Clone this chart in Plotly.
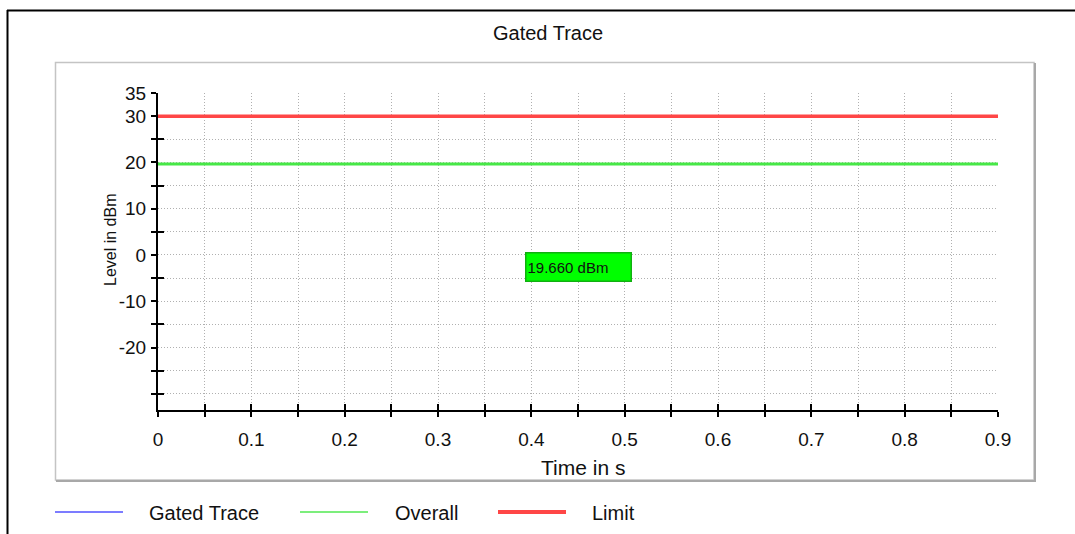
import plotly.graph_objects as go

# ---- data ----
time_s = [0.0, 0.9]
overall_dbm = [19.66, 19.66]
limit_dbm = [30.0, 30.0]
gated_time_s = [None]
gated_dbm = [None]
marker_value_dbm = 19.66

x_tick_vals = [0.0, 0.05, 0.1, 0.15, 0.2, 0.25, 0.3, 0.35, 0.4, 0.45,
               0.5, 0.55, 0.6, 0.65, 0.7, 0.75, 0.8, 0.85, 0.9]
x_tick_text = ["0", "", "0.1", "", "0.2", "", "0.3", "", "0.4", "",
               "0.5", "", "0.6", "", "0.7", "", "0.8", "", "0.9"]
y_tick_vals = [35, 30, 25, 20, 15, 10, 5, 0, -5, -10, -15, -20, -25, -30]
y_tick_text = ["35", "30", "", "20", "", "10", "", "0", "", "-10", "", "-20", "", ""]
y_inner_ticks = [35, 25, 15, 5, -5, -15, -25, -30]

x_range = [0, 0.9]
y_range = [-33.5, 35]

# ---- layout geometry (pixels) ----
W, H = 1075, 534
L, R, T, B = 158, 998, 93, 410


def px(x):
    return (x - L) / (R - L)


def py(y):
    return (B - y) / (B - T)


FONT = "Liberation Sans, Arial, Helvetica, sans-serif"

fig = go.Figure()
fig.add_trace(go.Scatter(x=time_s, y=limit_dbm, mode="lines", name="Limit",
                         line=dict(color="#ff4646", width=3.5), showlegend=False))
fig.add_trace(go.Scatter(x=time_s, y=overall_dbm, mode="lines", name="Overall",
                         line=dict(color="#46e846", width=3), showlegend=False))
fig.add_trace(go.Scatter(x=gated_time_s, y=gated_dbm, mode="lines", name="Gated Trace",
                         xaxis="x2", yaxis="y2",
                         line=dict(color="#5050ff", width=1.5), showlegend=False))

shapes = []
# outer black frame (left and top visible)
shapes.append(dict(type="line", xref="paper", yref="paper",
                   x0=px(7.5), x1=px(7.5), y0=py(10), y1=py(540),
                   line=dict(color="black", width=2)))
shapes.append(dict(type="line", xref="paper", yref="paper",
                   x0=px(7), x1=px(1080), y0=py(10.5), y1=py(10.5),
                   line=dict(color="black", width=2)))
# inner panel
shapes.append(dict(type="rect", xref="paper", yref="paper",
                   x0=px(55.5), x1=px(1034), y0=py(62.5), y1=py(480),
                   line=dict(color="#c4c4c4", width=1.5)))
shapes.append(dict(type="line", xref="paper", yref="paper",
                   x0=px(1035), x1=px(1035), y0=py(63), y1=py(481),
                   line=dict(color="#a8a8a8", width=2)))
shapes.append(dict(type="line", xref="paper", yref="paper",
                   x0=px(56), x1=px(1036), y0=py(481), y1=py(481),
                   line=dict(color="#a8a8a8", width=2)))

# legend (drawn manually)
legend_items = [("Gated Trace", "#5050ff", 1.5, 55, 147),
                ("Overall", "#50e850", 1.5, 300, 393),
                ("Limit", "#ff4646", 4, 498, 590)]
annotations = []
for name, col, w, x0, tx in legend_items:
    shapes.append(dict(type="line", xref="paper", yref="paper",
                       x0=px(x0), x1=px(x0 + 68), y0=py(512), y1=py(512),
                       line=dict(color=col, width=w)))
    annotations.append(dict(text=name, xref="paper", yref="paper",
                            x=px(tx), y=py(513), xanchor="left", yanchor="middle",
                            showarrow=False, font=dict(family=FONT, size=20, color="#111")))

# titles
annotations.append(dict(text="Gated Trace", xref="paper", yref="paper",
                        x=px(548), y=py(33), xanchor="center", yanchor="middle",
                        showarrow=False, font=dict(family=FONT, size=20, color="#111")))
annotations.append(dict(text="Time in s", xref="paper", yref="paper",
                        x=px(583), y=py(467), xanchor="center", yanchor="middle",
                        showarrow=False, font=dict(family=FONT, size=21, color="#111")))
annotations.append(dict(text="Level in dBm", xref="paper", yref="paper",
                        x=px(110), y=py(240), xanchor="center", yanchor="middle",
                        textangle=-90,
                        showarrow=False, font=dict(family=FONT, size=16, color="#111")))
# marker readout box
annotations.append(dict(text=f"{marker_value_dbm:.3f} dBm", x=0.3935, y=-2.6,
                        xref="x", yref="y", xanchor="left", yanchor="middle",
                        showarrow=False, align="left", width=102, height=25,
                        bgcolor="#00ff00", bordercolor="#10b010", borderwidth=1.5,
                        borderpad=1,
                        font=dict(family=FONT, size=15, color="#111")))

axis_common = dict(showline=True, linecolor="black", linewidth=2, zeroline=False,
                   ticks="outside", ticklen=5, tickwidth=2, tickcolor="black",
                   showgrid=True, gridcolor="#b0b0b0", gridwidth=1, griddash="1px,2px",
                   tickfont=dict(family=FONT, size=19, color="#111"))

fig.update_layout(
    width=W, height=H, autosize=False,
    margin=dict(l=L, r=W - R, t=T, b=H - B),
    paper_bgcolor="white", plot_bgcolor="white",
    showlegend=False,
    xaxis=dict(range=x_range, tickmode="array", tickvals=x_tick_vals, ticktext=x_tick_text,
               ticklabelstandoff=6, **axis_common),
    yaxis=dict(range=y_range, tickmode="array", tickvals=y_tick_vals, ticktext=y_tick_text,
               ticklabelstandoff=1, **axis_common),
    xaxis2=dict(range=x_range, overlaying="x", anchor="y", side="bottom",
                showline=False, showgrid=False, zeroline=False,
                tickmode="array", tickvals=x_tick_vals, showticklabels=False,
                ticks="inside", ticklen=6, tickwidth=2, tickcolor="black"),
    yaxis2=dict(range=y_range, overlaying="y", anchor="x", side="left",
                showline=False, showgrid=False, zeroline=False,
                tickmode="array", tickvals=y_inner_ticks, showticklabels=False,
                ticks="inside", ticklen=6, tickwidth=2, tickcolor="black"),
    shapes=shapes,
    annotations=annotations,
)

fig.write_html("out.html")
